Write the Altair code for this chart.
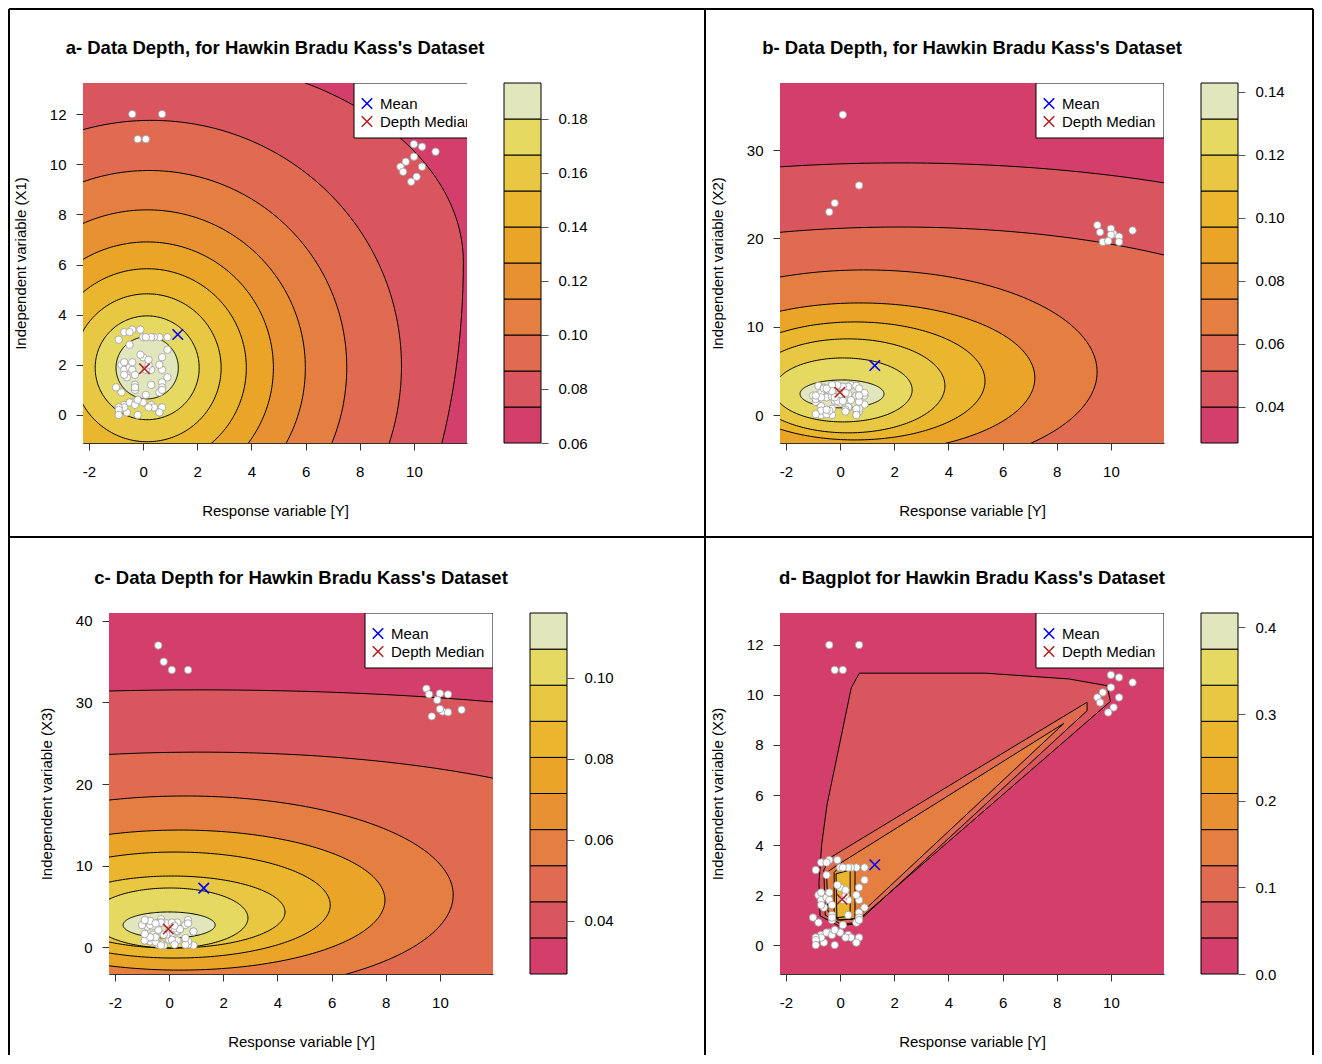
import math
import numpy as np
import pandas as pd
import altair as alt

# ---------------- data : Hawkins-Bradu-Kass ----------------
Y = [9.7, 10.1, 10.3, 9.5, 10.0, 10.0, 10.8, 10.3, 9.6, 9.9, -0.2, -0.4, 0.7, 0.1, -0.4, 0.6, -0.2, 0.0, 0.1, 0.4,
     0.9, 0.3, -0.8, 0.7, -0.3, -0.8, -0.7, 0.3, 0.3, -0.3, 0.0, -0.4, -0.6, -0.7, 0.3, -1.0, -0.6, 0.9, -0.7, -0.5,
     -0.1, -0.7, 0.6, -0.7, -0.5, -0.4, -0.9, 0.1, 0.9, -0.4, 0.7, -0.5, 0.7, 0.7, 0.0, 0.1, 0.7, -0.1, -0.3, -0.9,
     -0.3, 0.6, -0.3, -0.5, 0.6, -0.9, -0.7, 0.6, 0.2, 0.7, 0.2, -0.2, 0.4, -0.9, 0.2]
X1 = [10.1, 9.5, 10.7, 9.9, 10.3, 10.8, 10.5, 9.9, 9.7, 9.3, 11.0, 12.0, 12.0, 11.0, 3.4, 3.1, 0.0, 2.3, 0.8, 3.1,
      2.6, 0.4, 2.0, 1.3, 1.0, 0.9, 3.3, 1.8, 1.2, 1.2, 3.1, 0.5, 1.5, 0.4, 3.1, 1.1, 0.1, 1.5, 2.1, 0.5,
      3.4, 0.3, 0.1, 1.8, 1.9, 1.8, 3.0, 3.1, 3.1, 2.1, 2.3, 3.3, 0.3, 1.1, 0.5, 1.8, 1.8, 2.4, 1.6, 0.3,
      0.4, 0.9, 1.1, 2.8, 2.0, 0.2, 1.6, 0.1, 2.0, 1.0, 2.2, 0.6, 0.3, 0.0, 0.3]
X2 = [19.6, 20.5, 20.2, 21.5, 21.1, 20.4, 20.9, 19.6, 20.7, 19.7, 24.0, 23.0, 26.0, 34.0, 2.9, 2.2, 1.6, 1.6, 2.9, 3.4,
      2.2, 3.2, 2.3, 2.3, 0.0, 3.3, 2.5, 0.8, 0.9, 0.7, 1.4, 2.4, 3.1, 0.0, 2.4, 2.2, 3.0, 1.2, 0.0, 2.0,
      1.6, 1.0, 3.3, 0.5, 0.1, 0.5, 0.1, 1.6, 2.5, 2.8, 1.5, 0.6, 0.4, 3.0, 2.4, 3.2, 0.7, 3.4, 2.1, 1.5,
      3.4, 0.1, 2.7, 3.0, 0.7, 1.8, 2.0, 0.0, 0.6, 2.2, 2.5, 2.0, 1.7, 2.2, 0.4]
X3 = [28.3, 28.9, 31.0, 31.7, 31.1, 29.2, 29.1, 28.8, 31.0, 30.3, 35.0, 37.0, 34.0, 34.0, 2.1, 0.3, 0.2, 2.0, 1.6, 2.2,
      1.9, 1.9, 0.8, 0.5, 0.4, 2.5, 2.9, 2.0, 0.8, 3.4, 1.0, 0.3, 1.5, 0.7, 3.0, 2.7, 2.6, 0.2, 1.2, 1.2,
      2.9, 2.7, 0.9, 3.2, 0.6, 3.0, 0.8, 3.0, 1.9, 2.9, 0.4, 1.2, 3.3, 0.3, 0.9, 0.9, 0.7, 1.5, 3.0, 3.3,
      3.0, 0.3, 0.2, 2.9, 2.7, 0.8, 1.2, 1.1, 0.3, 2.9, 2.3, 1.5, 2.2, 1.6, 2.6]

MEAN_XY = [(1.28, 3.21), (1.28, 5.60), (1.28, 7.23), (1.28, 3.21)]
MEDIAN_XY = [(0.05, 1.84), (-0.01, 2.58), (-0.03, 2.21), (0.07, 1.83)]

X_DOMAIN = [-2.22, 11.96]
X_TICKS = [-2, 0, 2, 4, 6, 8, 10]
Y_DOMAINS = [[-1.12, 13.24], [-3.17, 37.6], [-3.31, 40.98], [-1.156, 13.276]]
Y_TICKS = [[0, 2, 4, 6, 8, 10, 12], [0, 10, 20, 30], [0, 10, 20, 30, 40], [0, 2, 4, 6, 8, 10, 12]]

Z_RANGES = [[0.06, 0.19333], [0.028571, 0.142857], [0.0269, 0.1160], [0.0, 0.41667]]
Z_TICKS = [[0.06, 0.08, 0.10, 0.12, 0.14, 0.16, 0.18], [0.04, 0.06, 0.08, 0.10, 0.12, 0.14],
           [0.04, 0.06, 0.08, 0.10], [0.0, 0.1, 0.2, 0.3, 0.4]]
Z_FORMATS = ['.2f', '.2f', '.2f', '.1f']

TITLES = ["a- Data Depth, for Hawkin Bradu Kass's Dataset",
          "b- Data Depth, for Hawkin Bradu Kass's Dataset",
          "c- Data Depth for Hawkin Bradu Kass's Dataset",
          "d- Bagplot for Hawkin Bradu Kass's Dataset"]
Y_TITLES = ["Independent variable (X1)", "Independent variable (X2)",
            "Independent variable (X3)", "Independent variable (X3)"]
X_TITLE = "Response variable [Y]"
LEGEND_LABELS = ["Mean", "Depth Median"]

# depth contours (outer -> inner): centre, semi-axes (left/right, up/down)
A_CX = [0.145, 0.30, 0.22, 0.15, 0.15, 0.15, 0.15, 0.15, 0.15]
A_CY = [6.10, 1.95, 1.90, 1.88, 1.88, 1.88, 1.88, 1.88, 1.88]
A_RXL = [11.68, 9.24, 7.30, 5.84, 4.66, 3.66, 2.73, 1.92, 1.15]
A_RXR = [11.68, 9.24, 7.30, 5.84, 4.66, 3.66, 2.73, 1.92, 1.15]
A_RYU = [8.25, 9.80, 7.85, 6.30, 5.02, 3.95, 2.95, 2.07, 1.24]
A_RYD = [19.98, 9.97, 7.93, 6.30, 5.02, 3.95, 2.95, 2.07, 1.24]
A_BANDS = [1, 2, 3, 4, 5, 6, 7, 8, 9]

B_CX = [2.21, 2.21, 0.92, 0.73, 0.55, 0.29, 0.11, 0.07]
B_CY = [6.81, 5.67, 4.88, 4.20, 3.86, 3.30, 2.84, 2.39]
B_RXL = [21.98, 16.14, 8.57, 6.46, 4.80, 3.58, 2.55, 1.55]
B_RXR = [21.98, 16.14, 8.57, 6.46, 4.80, 3.58, 2.55, 1.55]
B_RYU = [21.74, 15.62, 11.55, 8.49, 6.68, 5.32, 3.62, 1.58]
B_RYD = [21.74, 15.62, 11.55, 8.49, 6.68, 5.32, 3.62, 1.58]
B_BANDS = [1, 2, 3, 5, 6, 7, 8, 9]

C_CX = [1.14, 1.14, 0.59, 0.40, 0.22, 0.11, 0.03, 0.00]
C_CY = [9.45, 7.61, 6.38, 5.76, 5.15, 4.29, 3.56, 2.70]
C_RXL = [30.1, 18.2, 9.90, 7.57, 5.73, 4.17, 2.88, 1.70]
C_RXR = [30.1, 18.2, 9.90, 7.57, 5.73, 4.17, 2.88, 1.70]
C_RYU = [22.1, 16.3, 12.15, 8.59, 6.50, 4.42, 3.68, 1.60]
C_RYD = [22.1, 16.3, 12.15, 8.59, 6.50, 4.42, 3.68, 1.60]
C_BANDS = [1, 2, 3, 5, 6, 7, 8, 9]

# bagplot polygons (outer -> inner) and their colour band
D_POLYS = [
    [(0.71, 10.87), (5.36, 10.87), (8.44, 10.64), (9.86, 10.37), (9.98, 9.74), (0.49, 0.84), (-0.05, 0.77),
     (-0.74, 1.17), (-0.78, 2.5), (-0.68, 4.03), (-0.48, 5.63), (0.41, 10.28)],
    [(9.12, 9.71), (9.12, 9.37), (0.62, 0.89), (0.0, 0.85), (-0.55, 1.2), (-0.6, 3.0), (-0.36, 3.5)],
    [(8.26, 8.86), (0.55, 1.05), (0.0, 1.0), (-0.45, 1.35), (-0.5, 2.9), (-0.1, 3.2)],
    [(-0.12, 3.02), (0.55, 3.05), (0.55, 1.05), (-0.1, 1.0), (-0.22, 1.3), (-0.22, 2.9)],
    [(-0.15, 2.85), (0.37, 3.0), (0.37, 1.15), (-0.12, 1.1)],
]
D_BANDS = [1, 2, 3, 4, 6]

# ---------------- colours: HCL heat palette ----------------
def hcl_hex(h, c, l):
    XN, YN, ZN = 95.047, 100.0, 108.883
    hr = math.radians(h)
    U, V = c * math.cos(hr), c * math.sin(hr)
    Yv = YN * ((l + 16) / 116) ** 3 if l > 7.999592 else YN * l / 903.3
    t = XN + YN + ZN
    x, y = XN / t, YN / t
    uN = 2 * x / (6 * y - x + 1.5)
    vN = 4.5 * y / (6 * y - x + 1.5)
    u = U / (13 * l) + uN
    v = V / (13 * l) + vN
    Xv = 9.0 * Yv * u / (4 * v)
    Zv = -Xv / 3 - 5 * Yv + 3 * Yv / v
    Xv, Yv, Zv = Xv / YN, Yv / YN, Zv / YN

    def g(q):
        return 1.055 * q ** (1 / 2.4) - 0.055 if q > 0.00304 else 12.92 * q
    rgb = [g(3.240479 * Xv - 1.537150 * Yv - 0.498535 * Zv),
           g(-0.969256 * Xv + 1.875992 * Yv + 0.041556 * Zv),
           g(0.055648 * Xv - 0.204043 * Yv + 1.057311 * Zv)]
    return '#' + ''.join('%02X' % int(round(255 * min(1, max(0, q)))) for q in rgb)


HEAT = [hcl_hex(90 - 90 * i, 30 + 70 * i ** 0.2, 90 - 40 * i) for i in np.linspace(1, 0, 10)]

# ---------------- layout ----------------
FONT = 'Liberation Sans'
FS = 15
TFS = 18.5
W = 384
BAR_W = 37
HEIGHTS = [360, 360, 361, 361]
LEGEND_X = [271, 256, 256, 256]
XSHAPE = "M-1,-1L1,1M-1,1L1,-1"
ONE = pd.DataFrame({'k': [0]})


def encs(i):
    H = HEIGHTS[i]
    xenc = alt.X('x:Q', scale=alt.Scale(domain=X_DOMAIN, nice=False, zero=False),
                 axis=alt.Axis(values=X_TICKS, labelExpr="datum.value + ''", tickSize=7, tickColor='#333333',
                               domainColor='#333333', labelPadding=14, labelFontSize=FS, labelColor='black',
                               labelFlush=False, labelOverlap=False, grid=False, title=X_TITLE,
                               titleFontSize=FS, titleFontWeight='normal', titleColor='black',
                               titleX=W / 2, titleY=67, titleBaseline='middle', titleAlign='center'))
    yenc = alt.Y('y:Q', scale=alt.Scale(domain=Y_DOMAINS[i], nice=False, zero=False),
                 axis=alt.Axis(values=Y_TICKS[i], labelExpr="datum.value + ''", tickSize=7, tickColor='#333333',
                               domainColor='#333333', labelPadding=10, labelFontSize=FS, labelColor='black',
                               labelFlush=False, labelOverlap=False, grid=False, title=Y_TITLES[i],
                               titleFontSize=FS, titleFontWeight='normal', titleColor='black',
                               titleAngle=270, titleX=-63, titleY=H / 2, titleBaseline='middle',
                               titleAlign='center'))
    return xenc, yenc


def ellipse_frames(cx, cy, rxl, rxr, ryu, ryd, n=120):
    arows, lrows = [], []
    for k in range(len(cx)):
        for th in np.linspace(math.pi, 0, n):
            c, s = math.cos(th), math.sin(th)
            rx = rxr[k] if c >= 0 else rxl[k]
            arows.append({'cid': k, 'x': cx[k] + rx * c, 'y': cy[k] - ryd[k] * s, 'y2': cy[k] + ryu[k] * s})
        for j, th in enumerate(np.linspace(0, 2 * math.pi, 2 * n)):
            c, s = math.cos(th), math.sin(th)
            rx = rxr[k] if c >= 0 else rxl[k]
            ry = ryu[k] if s >= 0 else ryd[k]
            lrows.append({'cid': k, 'i': j, 'x': cx[k] + rx * c, 'y': cy[k] + ry * s})
    return pd.DataFrame(arows), pd.DataFrame(lrows)


def polygon_frames(polys):
    arows, lrows = [], []
    for k, poly in enumerate(polys):
        xs = sorted(set([p[0] for p in poly]))
        fine = []
        for a, b in zip(xs[:-1], xs[1:]):
            fine.extend(np.linspace(a, b, 6)[:-1].tolist())
        fine.append(xs[-1])
        edges = list(zip(poly, poly[1:] + poly[:1]))
        for xv in fine:
            ys = []
            for (x1, y1), (x2, y2) in edges:
                if x1 == x2:
                    if abs(xv - x1) < 1e-9:
                        ys += [y1, y2]
                elif min(x1, x2) - 1e-9 <= xv <= max(x1, x2) + 1e-9:
                    ys.append(y1 + (xv - x1) * (y2 - y1) / (x2 - x1))
            if ys:
                arows.append({'cid': k, 'x': xv, 'y': min(ys), 'y2': max(ys)})
        for j, (px, py) in enumerate(poly + poly[:1]):
            lrows.append({'cid': k, 'i': j, 'x': px, 'y': py})
    return pd.DataFrame(arows), pd.DataFrame(lrows)


def main_panel(i, xs, ys, area_df, line_df, bands, bg_band, borders=False):
    H = HEIGHTS[i]
    xenc, yenc = encs(i)
    layers = []
    layers.append(alt.Chart(ONE).mark_rect(color=HEAT[bg_band]).encode(
        x=alt.value(0), x2=alt.value(W), y=alt.value(0), y2=alt.value(H)))
    for k, b in enumerate(bands):
        layers.append(alt.Chart(area_df).transform_filter(alt.datum.cid == k).mark_area(
            color=HEAT[b], clip=True, orient='vertical', opacity=1).encode(x=xenc, y=yenc, y2=alt.Y2('y2:Q')))
    layers.append(alt.Chart(line_df).mark_line(color='black', strokeWidth=1, clip=True).encode(
        x=xenc, y=yenc, detail='cid:N', order=alt.Order('i:Q')))
    pts = pd.DataFrame({'x': xs, 'y': ys})
    layers.append(alt.Chart(pts).mark_circle(color='white', stroke='#9a9a9a', strokeWidth=0.8, size=55,
                                             opacity=1).encode(x=xenc, y=yenc))
    mk = pd.DataFrame({'x': [MEAN_XY[i][0], MEDIAN_XY[i][0]], 'y': [MEAN_XY[i][1], MEDIAN_XY[i][1]],
                       'c': ['#0000FF', '#B22222']})
    layers.append(alt.Chart(mk).mark_point(shape=XSHAPE, filled=False, size=110, strokeWidth=1.6,
                                           opacity=1).encode(x=xenc, y=yenc,
                                                             color=alt.Color('c:N', scale=None)))
    lx = LEGEND_X[i]
    layers.append(alt.Chart(ONE).mark_rect(fill='white', stroke='black', strokeWidth=1, clip=True).encode(
        x=alt.value(lx), x2=alt.value(lx + 128), y=alt.value(0), y2=alt.value(55)))
    leg = pd.DataFrame({'t': LEGEND_LABELS, 'c': ['#0000FF', '#B22222'], 'py': [20.5, 38.5]})
    layers.append(alt.Chart(leg).mark_point(shape=XSHAPE, filled=False, size=110, strokeWidth=1.6,
                                            opacity=1, clip=True).encode(
        x=alt.value(lx + 13), y=alt.Y('py:Q', scale=None), color=alt.Color('c:N', scale=None)))
    layers.append(alt.Chart(leg).mark_text(align='left', baseline='middle', fontSize=FS, font=FONT,
                                           color='black', clip=True).encode(
        x=alt.value(lx + 26), y=alt.Y('py:Q', scale=None), text='t:N'))
    layers.append(alt.Chart(pd.DataFrame({'t': [TITLES[i]]})).mark_text(
        align='center', baseline='middle', fontSize=TFS, fontWeight='bold', font=FONT, color='black').encode(
        x=alt.value(W / 2), y=alt.value(-35), text='t:N'))
    if borders:
        segs = [(-74, 1230, -74, None), (-74, None, -74, 972), (622, None, -74, 972),
                (1230, None, -74, 972), (-74, 1230, 454, None)]
        for x1, x2, y1, y2 in segs:
            enc = dict(x=alt.value(x1), y=alt.value(y1))
            if x2 is not None:
                enc['x2'] = alt.value(x2)
            if y2 is not None:
                enc['y2'] = alt.value(y2)
            layers.append(alt.Chart(ONE).mark_rule(color='black', strokeWidth=2).encode(**enc))
    return alt.layer(*layers).properties(width=W, height=H)


def color_key(i):
    H = HEIGHTS[i]
    z0, z1 = Z_RANGES[i]
    lv = np.linspace(z0, z1, 11)
    dfz = pd.DataFrame({'lo': lv[:-1], 'hi': lv[1:], 'col': HEAT})
    return alt.Chart(dfz).mark_rect(stroke='black', strokeWidth=1).encode(
        x=alt.value(0), x2=alt.value(BAR_W),
        y=alt.Y('lo:Q', scale=alt.Scale(domain=[z0, z1], nice=False, zero=False),
                axis=alt.Axis(orient='right', values=Z_TICKS[i], format=Z_FORMATS[i], tickSize=7,
                              tickColor='#555555', domain=False, labelPadding=10, labelFontSize=FS,
                              labelColor='black', labelFlush=False, labelOverlap=False, grid=False, title='')),
        y2='hi:Q', color=alt.Color('col:N', scale=None)).properties(width=BAR_W, height=H)


def spacer(w):
    return alt.Chart(ONE).mark_point(opacity=0).properties(width=w, height=10)


n = min(len(Y), len(X1), len(X2), len(X3))
Yv, X1v, X2v, X3v = Y[:n], X1[:n], X2[:n], X3[:n]

aA, lA = ellipse_frames(A_CX, A_CY, A_RXL, A_RXR, A_RYU, A_RYD)
aB, lB = ellipse_frames(B_CX, B_CY, B_RXL, B_RXR, B_RYU, B_RYD)
aC, lC = ellipse_frames(C_CX, C_CY, C_RXL, C_RXR, C_RYU, C_RYD)
aD, lD = polygon_frames(D_POLYS)

pa = main_panel(0, Yv, X1v, aA, lA, A_BANDS, 0, borders=True)
pb = main_panel(1, Yv, X2v, aB, lB, B_BANDS, 0)
pc = main_panel(2, Yv, X3v, aC, lC, C_BANDS, 0)
pd_ = main_panel(3, Yv, X1v, aD, lD, D_BANDS, 0)

row1 = alt.hconcat(pa, spacer(37), color_key(0), spacer(239), pb, spacer(37), color_key(1),
                   spacing=0, bounds='flush')
row2 = alt.hconcat(spacer(26), pc, spacer(37), color_key(2), spacer(213), pd_, spacer(37), color_key(3),
                   spacing=0, bounds='flush')

chart = alt.vconcat(row1, row2, spacing=530, bounds='flush').properties(padding=0).configure(
    font=FONT).configure_view(strokeWidth=0)

chart.save("out.html", embed_options={"renderer": "svg", "actions": False})
